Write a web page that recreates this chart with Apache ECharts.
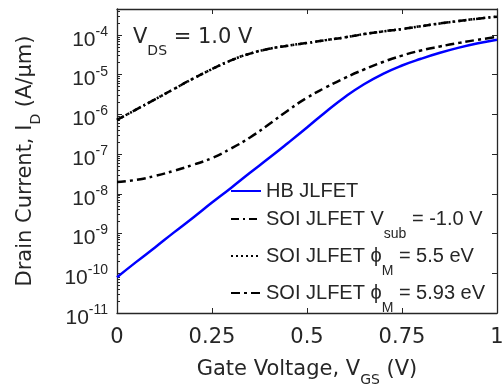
<!DOCTYPE html>
<html>
<head>
<meta charset="utf-8">
<script src="https://cdn.jsdelivr.net/npm/echarts@6/dist/echarts.min.js"></script>
<style>
  html, body { margin: 0; padding: 0; background: #fff; }
  #chart { width: 504px; height: 384px; }
</style>
</head>
<body>
<div id="chart"></div>
<script>
// gate voltage (V)
const vgs = [0, 0.05, 0.1, 0.15, 0.2, 0.25, 0.3, 0.35, 0.4, 0.45, 0.5,
             0.55, 0.6, 0.65, 0.7, 0.75, 0.8, 0.85, 0.9, 0.95, 1.0]

// drain current (A/um)
const hbJlfet = [7.94e-11, 1.91e-10, 4.47e-10, 1.07e-9, 2.51e-9, 6.03e-9, 1.41e-8,
                 3.39e-8, 7.94e-8, 1.91e-7, 4.68e-7, 1.17e-6, 2.75e-6, 5.75e-6,
                 1.05e-5, 1.7e-5, 2.51e-5, 3.55e-5, 4.79e-5, 6.17e-5, 7.59e-5]
const soiVsub = [7.24e-7, 1.32e-6, 2.4e-6, 4.37e-6, 7.94e-6, 1.38e-5, 2.29e-5,
                 3.39e-5, 4.47e-5, 5.37e-5, 6.31e-5, 7.41e-5, 8.71e-5, 1.05e-4,
                 1.23e-4, 1.41e-4, 1.66e-4, 1.95e-4, 2.24e-4, 2.57e-4, 2.88e-4]
const soiPhi55 = [7.24e-7, 1.32e-6, 2.4e-6, 4.37e-6, 7.94e-6, 1.38e-5, 2.29e-5,
                  3.39e-5, 4.47e-5, 5.37e-5, 6.31e-5, 7.41e-5, 8.71e-5, 1.05e-4,
                  1.23e-4, 1.41e-4, 1.66e-4, 1.95e-4, 2.24e-4, 2.57e-4, 2.88e-4]
const soiPhi593 = [2.0e-8, 2.24e-8, 2.82e-8, 3.8e-8, 5.37e-8, 7.94e-8, 1.38e-7,
                   2.63e-7, 5.62e-7, 1.26e-6, 2.63e-6, 4.79e-6, 8.32e-6, 1.35e-5,
                   2.09e-5, 3.02e-5, 4.07e-5, 5.13e-5, 6.31e-5, 7.59e-5, 8.91e-5]

const xTicks = [0, 0.25, 0.5, 0.75, 1]
const yMin = 1e-11
const yMax = 4.5e-4

const names = ['HB JLFET', 'SOI JLFET Vsub = -1.0 V', 'SOI JLFET phiM = 5.5 eV', 'SOI JLFET phiM = 5.93 eV']
const legendRich = {
    'HB JLFET': '{b|HB JLFET}',
    'SOI JLFET Vsub = -1.0 V': '{b|SOI JLFET V}{s|sub}{b| = -1.0 V}',
    'SOI JLFET phiM = 5.5 eV': '{b|SOI JLFET \u03d5}{s|M}{b| = 5.5 eV}',
    'SOI JLFET phiM = 5.93 eV': '{b|SOI JLFET \u03d5}{s|M}{b| = 5.93 eV}',
}

const FONT = '"Liberation Sans", Arial, sans-serif'
const WIDE = '"DejaVu Sans", sans-serif'
const TXT = '#262626'
const AX = '#262626'

const chart = echarts.init(document.getElementById('chart'), null, { renderer: 'canvas' })

const pts = arr => vgs.map((v, i) => [v, arr[i]])

// base text centred in the line, subscript pushed to the bottom
const subRich = {
    b: { fontFamily: WIDE, fontSize: 21, color: TXT, lineHeight: 24, verticalAlign: 'middle' },
    s: { fontFamily: WIDE, fontSize: 14, color: TXT, lineHeight: 34, verticalAlign: 'bottom' },
}

const legendText = {
    fontFamily: FONT, fontSize: 20, color: TXT,
    rich: {
        b: { fontFamily: FONT, fontSize: 20, color: TXT, lineHeight: 44, verticalAlign: 'middle' },
        s: { fontFamily: FONT, fontSize: 14, color: TXT, lineHeight: 14, verticalAlign: 'bottom' },
    },
}
const legendTops = [181, 209, 246, 283]

const lineSeries = (name, arr, color, type) => ({
    name,
    type: 'line',
    data: pts(arr),
    smooth: true,
    symbol: 'none',
    showSymbol: false,
    lineStyle: { color, width: 2.5, type },
    itemStyle: { color },
    z: 3,
})

const option = {
    animation: false,
    textStyle: { fontFamily: FONT },
    grid: { left: 117, right: 7, top: 9, bottom: 71, containLabel: false, outerBoundsMode: 'none' },
    legend: names.map((n, i) => ({
        data: [n],
        left: 230,
        top: legendTops[i],
        padding: 0,
        itemWidth: 30,
        itemHeight: 10,
        selectedMode: false,
        itemStyle: { opacity: 0, borderWidth: 0 },
        formatter: name => legendRich[name],
        textStyle: legendText,
    })),
    xAxis: [{
        type: 'value', min: 0, max: 1, interval: 0.25,
        axisLine: { show: true, onZero: false, lineStyle: { color: AX, width: 1.3 } },
        axisTick: { show: true, inside: true, length: 5, lineStyle: { color: AX } },
        splitLine: { show: false },
        axisLabel: {
            margin: 14, fontFamily: WIDE, fontSize: 21, color: TXT, lineHeight: 22,
            formatter: v => xTicks.includes(v) ? String(v) : '',
        },
        name: '{b|Gate Voltage, V}{s|GS}{b| (V)}',
        nameLocation: 'middle',
        nameGap: 40,
        nameTextStyle: { rich: subRich },
    }, {
        type: 'value', min: 0, max: 1, interval: 0.25, position: 'top',
        axisLine: { show: true, onZero: false, lineStyle: { color: AX, width: 1.3 } },
        axisTick: { show: true, inside: true, length: 5, lineStyle: { color: AX } },
        axisLabel: { show: false },
        splitLine: { show: false },
    }],
    yAxis: [{
        type: 'log', logBase: 10, min: yMin, max: yMax, splitNumber: 8,
        axisLine: { show: true, onZero: false, lineStyle: { color: AX, width: 1.3 } },
        axisTick: { show: true, inside: true, length: 5, lineStyle: { color: AX } },
        minorTick: { show: true, splitNumber: 9, length: 3, lineStyle: { color: AX } },
        splitLine: { show: false },
        axisLabel: {
            margin: 9,
            padding: [10, 0, 0, 0],
            formatter: v => {
                const e = Math.log10(v)
                if (Math.abs(e - Math.round(e)) > 1e-6) return ''
                return '{b|10}{s|' + Math.round(e) + '}'
            },
            rich: {
                b: { fontFamily: FONT, fontSize: 21, color: TXT, lineHeight: 30, verticalAlign: 'middle' },
                s: { fontFamily: FONT, fontSize: 14, color: TXT, lineHeight: 13, verticalAlign: 'top' },
            },
        },
        name: '{b|Drain Current, I}{s|D}{b| (A/\u03bcm)}',
        nameLocation: 'middle',
        nameGap: 74,
        nameTextStyle: { rich: subRich },
    }, {
        type: 'log', logBase: 10, min: yMin, max: yMax, splitNumber: 8, position: 'right',
        axisLine: { show: true, onZero: false, lineStyle: { color: AX, width: 1.3 } },
        axisTick: { show: true, inside: true, length: 5, lineStyle: { color: AX } },
        axisLabel: { show: false },
        splitLine: { show: false },
    }],
    graphic: [{
        type: 'text',
        left: 133,
        top: 27,
        style: {
            text: '{b|V}{s|DS}{b| = 1.0 V}',
            rich: {
                b: { fontFamily: WIDE, fontSize: 21, fill: TXT, lineHeight: 24, verticalAlign: 'middle' },
                s: { fontFamily: WIDE, fontSize: 14, fill: TXT, lineHeight: 42, verticalAlign: 'bottom' },
            },
        },
    }],
    series: [
        lineSeries(names[1], soiVsub, '#000', [8, 4, 2, 4]),
        lineSeries(names[2], soiPhi55, '#000', [2, 3]),
        lineSeries(names[3], soiPhi593, '#000', [9, 4, 3, 4]),
        lineSeries(names[0], hbJlfet, '#0000ff', 'solid'),
    ],
}

chart.setOption(option)
</script>
</body>
</html>
